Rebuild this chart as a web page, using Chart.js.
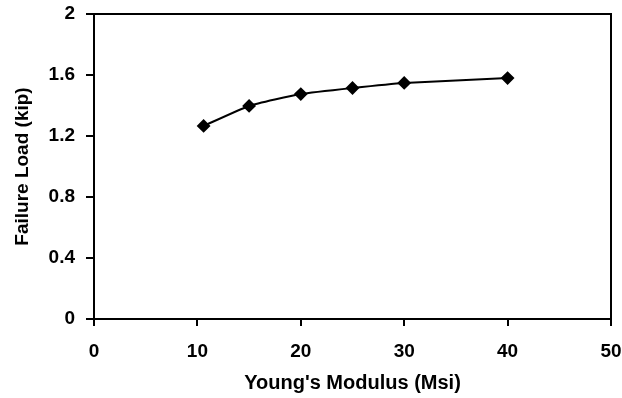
<!DOCTYPE html>
<html><head><meta charset="utf-8">
<script src="https://cdn.jsdelivr.net/npm/chart.js@4"></script>
<style>html,body{margin:0;padding:0;background:#fff}#wrap{width:622px;height:398px}</style>
</head><body><div id="wrap"><canvas id="c" width="622" height="398"></canvas></div>
<script>
const modulus = [10.6, 15, 20, 25, 30, 40];
const failureLoad = [1.266, 1.397, 1.475, 1.515, 1.548, 1.580];
const xTicks = [0, 10, 20, 30, 40, 50];
const yTicks = [0, 0.4, 0.8, 1.2, 1.6, 2];

const frame = {id:'frame', afterDraw(ch){const a=ch.chartArea,c=ch.ctx;c.save();c.strokeStyle='#000';c.lineWidth=2;c.strokeRect(a.left,a.top,a.right-a.left,a.bottom-a.top);c.restore();}};
const fam = '"Liberation Sans", Arial, sans-serif';
const noPad = s => { s.paddingLeft = 0; s.paddingRight = 0; s.paddingTop = 0; s.paddingBottom = 0; };
new Chart(document.getElementById('c'), {
  type:'scatter',
  data:{datasets:[{data:modulus.map((x,i)=>({x, y:failureLoad[i]})), showLine:true, borderColor:'#000', backgroundColor:'#000', borderWidth:2, pointStyle:'rectRot', pointRadius:5.5, pointHoverRadius:5.5, tension:0.15}]},
  options:{responsive:false, animation:false, events:[],
    layout:{padding:{top:14,right:11,left:0,bottom:0}},
    plugins:{legend:{display:false}, tooltip:{enabled:false}},
    scales:{
      x:{type:'linear', min:0, max:50, afterBuildTicks(s){s.ticks=xTicks.map(v=>({value:v}));},
        afterFit(s){s.height=79; noPad(s);},
        grid:{drawOnChartArea:false, tickLength:7, color:'#000', lineWidth:2},
        border:{color:'#000', width:2},
        ticks:{color:'#000', font:{family:fam,size:19,weight:'bold'}, padding:14, maxRotation:0, callback:v=>String(v)},
        title:{display:true, text:"Young's Modulus (Msi)", color:'#000', font:{family:fam,size:20,weight:'bold'}, padding:{top:0,bottom:3}}},
      y:{type:'linear', min:0, max:2, afterBuildTicks(s){s.ticks=yTicks.map(v=>({value:v}));},
        afterFit(s){s.width=94; noPad(s);},
        grid:{drawOnChartArea:false, tickLength:8, color:'#000', lineWidth:2},
        border:{color:'#000', width:2},
        ticks:{color:'#000', font:{family:fam,size:19,weight:'bold'}, padding:11, callback:v=>String(v)},
        title:{display:true, text:'Failure Load (kip)', color:'#000', font:{family:fam,size:19,weight:'bold'}, padding:{top:11,bottom:0}}}
    }},
  plugins:[frame]
});
</script></body></html>
